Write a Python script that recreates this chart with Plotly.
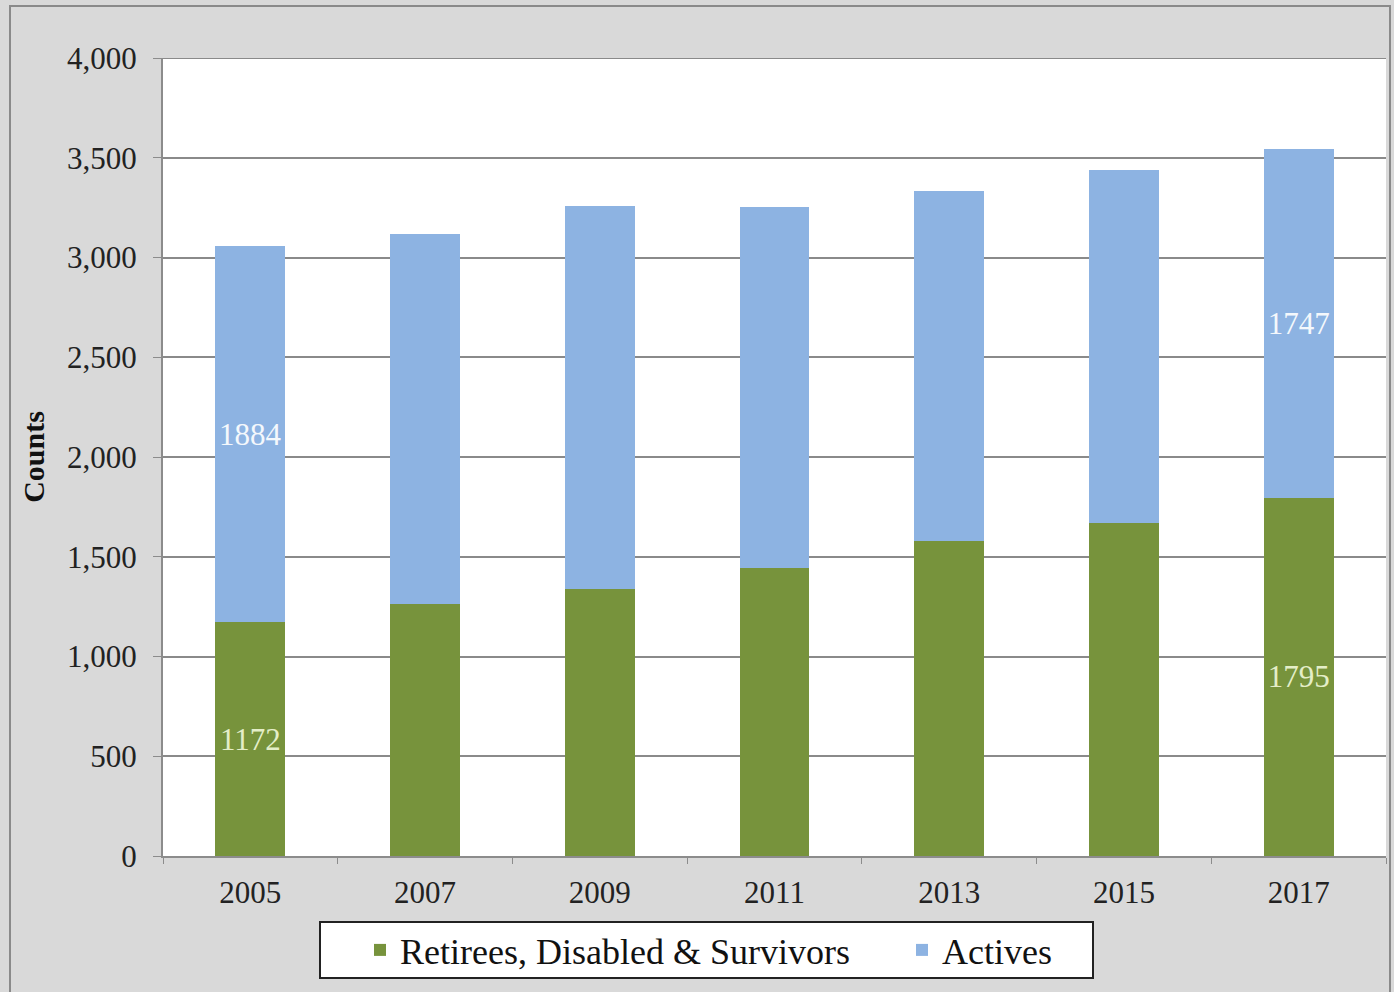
import plotly.graph_objects as go

years = ["2005", "2007", "2009", "2011", "2013", "2015", "2017"]
retirees = [1172, 1263, 1338, 1444, 1579, 1669, 1795]
actives = [1884, 1855, 1920, 1809, 1754, 1770, 1747]
retirees_labels = ["1172", "", "", "", "", "", "1795"]
actives_labels = ["1884", "", "", "", "", "", "1747"]
y_ticks = [0, 500, 1000, 1500, 2000, 2500, 3000, 3500, 4000]
y_ticktext = ["0", "500", "1,000", "1,500", "2,000", "2,500", "3,000", "3,500", "4,000"]

green = "#77933C"
blue = "#8DB3E2"
serif = "Liberation Serif, Times New Roman, serif"

fig = go.Figure()
fig.add_trace(go.Bar(
    x=years, y=retirees, name="Retirees, Disabled & Survivors",
    marker=dict(color=green, line=dict(width=0)),
    text=retirees_labels, textposition="inside", insidetextanchor="middle",
    textfont=dict(family=serif, size=31, color="#E4EEC8"),
    constraintext="none", textangle=0, legend="legend",
))
fig.add_trace(go.Bar(
    x=years, y=actives, name="Actives",
    marker=dict(color=blue, line=dict(width=0)),
    text=actives_labels, textposition="inside", insidetextanchor="middle",
    textfont=dict(family=serif, size=31, color="#F4F8FC"),
    constraintext="none", textangle=0, legend="legend2",
))

W, H = 1394, 992
ml, mr, mt, mb = 163, 8, 58, 136
pw, ph = W - ml - mr, H - mt - mb

def px_x(x):
    return (x - ml) / pw

def px_y(y):
    return (H - mb - y) / ph

legend_common = dict(
    orientation="h", y=px_y(950), yanchor="middle", xanchor="left",
    bgcolor="rgba(0,0,0,0)", borderwidth=0,
    font=dict(family=serif, size=36, color="#111111"),
    itemwidth=30,
)

fig.update_layout(
    width=W, height=H,
    margin=dict(l=ml, r=mr, t=mt, b=mb, autoexpand=False),
    barmode="stack", bargap=0.6,
    paper_bgcolor="#D9D9D9", plot_bgcolor="white",
    font=dict(family=serif, color="#222222"),
    showlegend=True,
    legend=dict(x=px_x(360), **legend_common),
    legend2=dict(x=px_x(902), **legend_common),
    xaxis=dict(
        type="category", showgrid=False, showline=True, linecolor="#8c8c8c", linewidth=2,
        ticks="outside", tickson="boundaries", ticklen=6, tickcolor="#8c8c8c",
        tickfont=dict(family=serif, size=31, color="#222222"),
        ticklabelstandoff=8,
    ),
    yaxis=dict(
        range=[0, 4000], tickvals=y_ticks, ticktext=y_ticktext,
        showgrid=True, gridcolor="#8a8a8a", gridwidth=2,
        showline=True, linecolor="#8c8c8c", linewidth=2,
        ticks="outside", ticklen=8, tickcolor="#8c8c8c",
        tickfont=dict(family=serif, size=31, color="#222222"),
        ticklabelstandoff=10,
        title=dict(text="<b>Counts</b>", font=dict(family=serif, size=30, color="#111111"), standoff=14),
        zeroline=False,
    ),
    shapes=[
        dict(type="rect", xref="paper", yref="paper",
             x0=px_x(10), x1=px_x(1390), y0=px_y(1000), y1=px_y(6),
             line=dict(color="#8a8a8a", width=2), fillcolor="rgba(0,0,0,0)", layer="below"),
        dict(type="line", xref="paper", yref="y",
             x0=0, x1=1, y0=y_ticks[-1], y1=y_ticks[-1],
             line=dict(color="#8a8a8a", width=2), layer="below"),
        dict(type="rect", xref="paper", yref="paper",
             x0=px_x(320), x1=px_x(1093), y0=px_y(978), y1=px_y(922),
             line=dict(color="#222222", width=2), fillcolor="white", layer="above"),
    ],
)

fig.write_html("out.html")
